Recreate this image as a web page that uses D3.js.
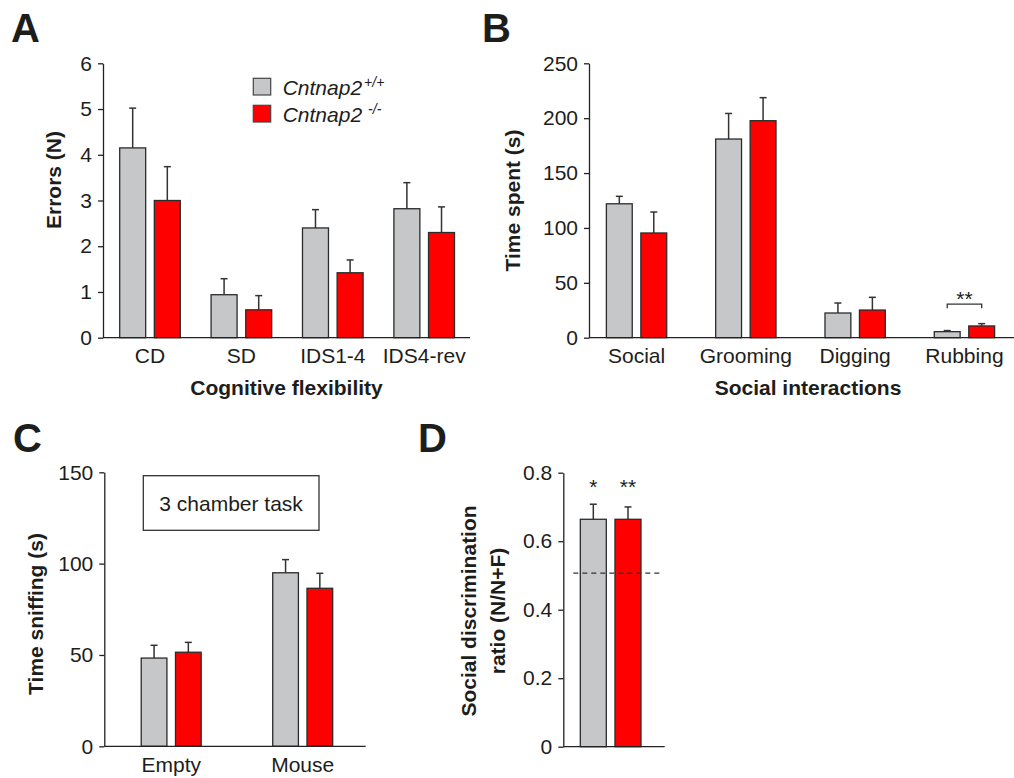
<!DOCTYPE html>
<html><head><meta charset="utf-8">
<script src="https://cdn.jsdelivr.net/npm/d3@7"></script>
<style>body{margin:0;background:#fff}</style>
</head><body>
<svg id="fig" width="1014" height="778"></svg>
<script>
// ---------------- data ----------------
const seriesKeys = ["wt", "ko"];
const seriesNames = ["Cntnap2", "Cntnap2"];
const seriesSup = ["+/+", "-/-"];

// Panel A: Cognitive flexibility (errors)
const catsA = ["CD", "SD", "IDS1-4", "IDS4-rev"];
const wtA = [4.15, 0.94, 2.40, 2.82];
const wtSemA = [0.87, 0.35, 0.40, 0.57];
const koA = [3.00, 0.61, 1.42, 2.30];
const koSemA = [0.74, 0.31, 0.28, 0.56];
const ticksA = [0, 1, 2, 3, 4, 5, 6];

// Panel B: Social interactions (time spent)
const catsB = ["Social", "Grooming", "Digging", "Rubbing"];
const wtB = [122, 181, 22.5, 5.5];
const wtSemB = [6.8, 23.3, 9.1, 1.0];
const koB = [95.4, 197.7, 25.2, 10.7];
const koSemB = [19.1, 21.0, 11.6, 2.1];
const ticksB = [0, 50, 100, 150, 200, 250];

// Panel C: 3 chamber task (time sniffing)
const catsC = ["Empty", "Mouse"];
const wtC = [48.3, 95.0];
const wtSemC = [7.0, 7.2];
const koC = [51.5, 86.5];
const koSemC = [5.4, 8.2];
const ticksC = [0, 50, 100, 150];

// Panel D: social discrimination ratio
const catsD = ["Ratio"];
const wtD = [0.664];
const wtSemD = [0.044];
const koD = [0.664];
const koSemD = [0.036];
const ticksD = [0, 0.2, 0.4, 0.6, 0.8];
const chanceD = 0.507;
const starsD = ["*", "**"];

// ---------------- style ----------------
const FONT = "'Liberation Sans', Arial, Helvetica, sans-serif";
const INK = "#1d1d1b";
const colors = { wt: "#c6c7c9", ko: "#ff0000" };
const svg = d3.select("#fig").style("font-family", FONT);

function panel(cfg) {
  const g = svg.append("g");
  const y = d3.scaleLinear().domain(cfg.yDomain).range(cfg.yRange);
  const x = d3.scaleBand().domain(cfg.cats).range(cfg.xRange)
    .paddingInner(cfg.pad).paddingOuter(cfg.pad / 2);
  const xs = d3.scaleBand().domain(seriesKeys).range([0, x.bandwidth()]).paddingInner(0.25);

  const rows = [];
  cfg.cats.forEach((c, i) => {
    rows.push({ cat: c, key: "wt", v: cfg.wt[i], e: cfg.wtSem[i] });
    rows.push({ cat: c, key: "ko", v: cfg.ko[i], e: cfg.koSem[i] });
  });

  // error bars
  const cap = 3.5;
  const eb = g.append("g").attr("stroke", "#333").attr("stroke-width", 1.5);
  rows.forEach(r => {
    const cx = x(r.cat) + xs(r.key) + xs.bandwidth() / 2;
    eb.append("line").attr("x1", cx).attr("x2", cx).attr("y1", y(r.v)).attr("y2", y(r.v + r.e));
    eb.append("line").attr("x1", cx - cap).attr("x2", cx + cap).attr("y1", y(r.v + r.e)).attr("y2", y(r.v + r.e));
  });

  // bars
  g.append("g").selectAll("rect").data(rows).join("rect")
    .attr("x", r => x(r.cat) + xs(r.key))
    .attr("width", xs.bandwidth())
    .attr("y", r => y(r.v))
    .attr("height", r => y(0) - y(r.v))
    .attr("fill", r => colors[r.key])
    .attr("stroke", "#2b2b2b").attr("stroke-width", 1.3);

  // y axis
  const ya = g.append("g").attr("transform", `translate(${cfg.axisX},0)`)
    .call(d3.axisLeft(y).tickValues(cfg.ticks).tickFormat(cfg.fmt)
      .tickSize(5).tickPadding(6).tickSizeOuter(0));
  ya.selectAll("path,line").attr("stroke", "#222").attr("stroke-width", 1.3);
  ya.selectAll("text").attr("font-size", 21).attr("fill", INK).attr("font-family", FONT);

  // x baseline
  g.append("line").attr("x1", cfg.axisX).attr("x2", cfg.axisEnd)
    .attr("y1", y(0)).attr("y2", y(0)).attr("stroke", "#222").attr("stroke-width", 1.3);

  if (cfg.showX) {
    const xa = g.append("g").attr("transform", `translate(0,${y(0)})`)
      .call(d3.axisBottom(x).tickSize(0).tickPadding(10.6));
    xa.select(".domain").remove();
    xa.selectAll("text").attr("font-size", 21).attr("fill", INK).attr("font-family", FONT);
  }
  return { g, x, xs, y };
}

function yTitle(lines, cx, baseX, cy) {
  const t = svg.append("text")
    .attr("transform", `translate(${baseX},${cy}) rotate(-90)`)
    .attr("text-anchor", "middle").attr("font-weight", "bold")
    .attr("font-size", 21).attr("fill", INK);
  lines.forEach((l, i) => t.append("tspan").attr("x", 0).attr("y", i * 29.5).text(l));
}
function label(txt, x, y, size, weight) {
  svg.append("text").attr("x", x).attr("y", y).attr("font-size", size)
    .attr("font-weight", weight || "normal").attr("fill", INK).text(txt);
}

// ---------------- Panel A ----------------
const pA = panel({
  cats: catsA, wt: wtA, wtSem: wtSemA, ko: koA, koSem: koSemA,
  yDomain: [0, 6], yRange: [337.7, 63.3], ticks: ticksA, fmt: d3.format("d"),
  xRange: [104.3, 469.9], pad: 0.337, axisX: 103, axisEnd: 470, showX: true
});
svg.append("text").attr("x", 286.5).attr("y", 394.5).attr("text-anchor", "middle")
  .attr("font-size", 21).attr("font-weight", "bold").attr("fill", INK).text("Cognitive flexibility");
yTitle(["Errors (N)"], 0, 60.7, 180);

// legend
seriesKeys.forEach((k, i) => {
  const ly = 78.3 + i * 27;
  svg.append("rect").attr("x", 253.3).attr("y", ly).attr("width", 17.4).attr("height", 16.7)
    .attr("fill", colors[k]).attr("stroke", "#444").attr("stroke-width", 1.2);
  const t = svg.append("text").attr("x", 282.7).attr("y", ly + 17)
    .attr("font-size", 21).attr("font-style", "italic").attr("fill", INK);
  t.append("tspan").text(seriesNames[i]);
  t.append("tspan").attr("dx", i === 0 ? 2 : 6).attr("dy", -8).attr("font-size", 14).text(seriesSup[i]);
});

// ---------------- Panel B ----------------
const pB = panel({
  cats: catsB, wt: wtB, wtSem: wtSemB, ko: koB, koSem: koSemB,
  yDomain: [0, 250], yRange: [337.7, 63.3], ticks: ticksB, fmt: d3.format("d"),
  xRange: [581.9, 1019.1], pad: 0.448, axisX: 589, axisEnd: 1014, showX: true
});
svg.append("text").attr("x", 808).attr("y", 394.5).attr("text-anchor", "middle")
  .attr("font-size", 21).attr("font-weight", "bold").attr("fill", INK).text("Social interactions");
yTitle(["Time spent (s)"], 0, 519.7, 200.5);

// significance bracket on Rubbing
{
  const c = "Rubbing", i = catsB.indexOf(c);
  const x1 = pB.x(c) + pB.xs("wt") + pB.xs.bandwidth() / 2;
  const x2 = pB.x(c) + pB.xs("ko") + pB.xs.bandwidth() / 2;
  const top = Math.min(pB.y(wtB[i] + wtSemB[i]), pB.y(koB[i] + koSemB[i]));
  const by = top - 19.5;
  svg.append("path").attr("d", `M${x1},${by + 4}V${by}H${x2}V${by + 4}`)
    .attr("fill", "none").attr("stroke", "#333").attr("stroke-width", 1.3);
  svg.append("text").attr("x", (x1 + x2) / 2).attr("y", by + 2).attr("text-anchor", "middle")
    .attr("font-size", 21).attr("fill", INK).text("**");
}

// ---------------- Panel C ----------------
const pC = panel({
  cats: catsC, wt: wtC, wtSem: wtSemC, ko: koC, koSem: koSemC,
  yDomain: [0, 150], yRange: [746.3, 472.3], ticks: ticksC, fmt: d3.format("d"),
  xRange: [105.45, 368.45], pad: 0.544, axisX: 104.3, axisEnd: 365.7, showX: true
});
yTitle(["Time sniffing (s)"], 0, 43.3, 614);
svg.append("rect").attr("x", 143.3).attr("y", 475.7).attr("width", 175.7).attr("height", 54.6)
  .attr("fill", "#fff").attr("stroke", "#333").attr("stroke-width", 1.3);
svg.append("text").attr("x", 231.1).attr("y", 510.7).attr("text-anchor", "middle")
  .attr("font-size", 21).attr("fill", INK).text("3 chamber task");

// ---------------- Panel D ----------------
const pD = panel({
  cats: catsD, wt: wtD, wtSem: wtSemD, ko: koD, koSem: koSemD,
  yDomain: [0, 0.8], yRange: [746.7, 472.7], ticks: ticksD,
  fmt: d => d === 0 ? "0" : d3.format(".1f")(d),
  xRange: [580.3, 641], pad: 0, axisX: 563.3, axisEnd: 664.7, showX: false
});
svg.append("line").attr("x1", 573.3).attr("x2", 661.7)
  .attr("y1", pD.y(chanceD)).attr("y2", pD.y(chanceD))
  .attr("stroke", "#333").attr("stroke-width", 1.3).attr("stroke-dasharray", "5,4");
seriesKeys.forEach((k, i) => {
  svg.append("text")
    .attr("x", pD.x(catsD[0]) + pD.xs(k) + pD.xs.bandwidth() / 2)
    .attr("y", pD.y(0.8) + 21.5).attr("text-anchor", "middle")
    .attr("font-size", 21).attr("fill", INK).text(starsD[i]);
});
yTitle(["Social discrimination", "ratio (N/N+F)"], 0, 475.7, 611);

// ---------------- panel letters ----------------
label("A", 11, 41.7, 40, "bold");
label("B", 482, 41.7, 40, "bold");
label("C", 13, 452.3, 40, "bold");
label("D", 418, 452.3, 40, "bold");
</script>
</body></html>
